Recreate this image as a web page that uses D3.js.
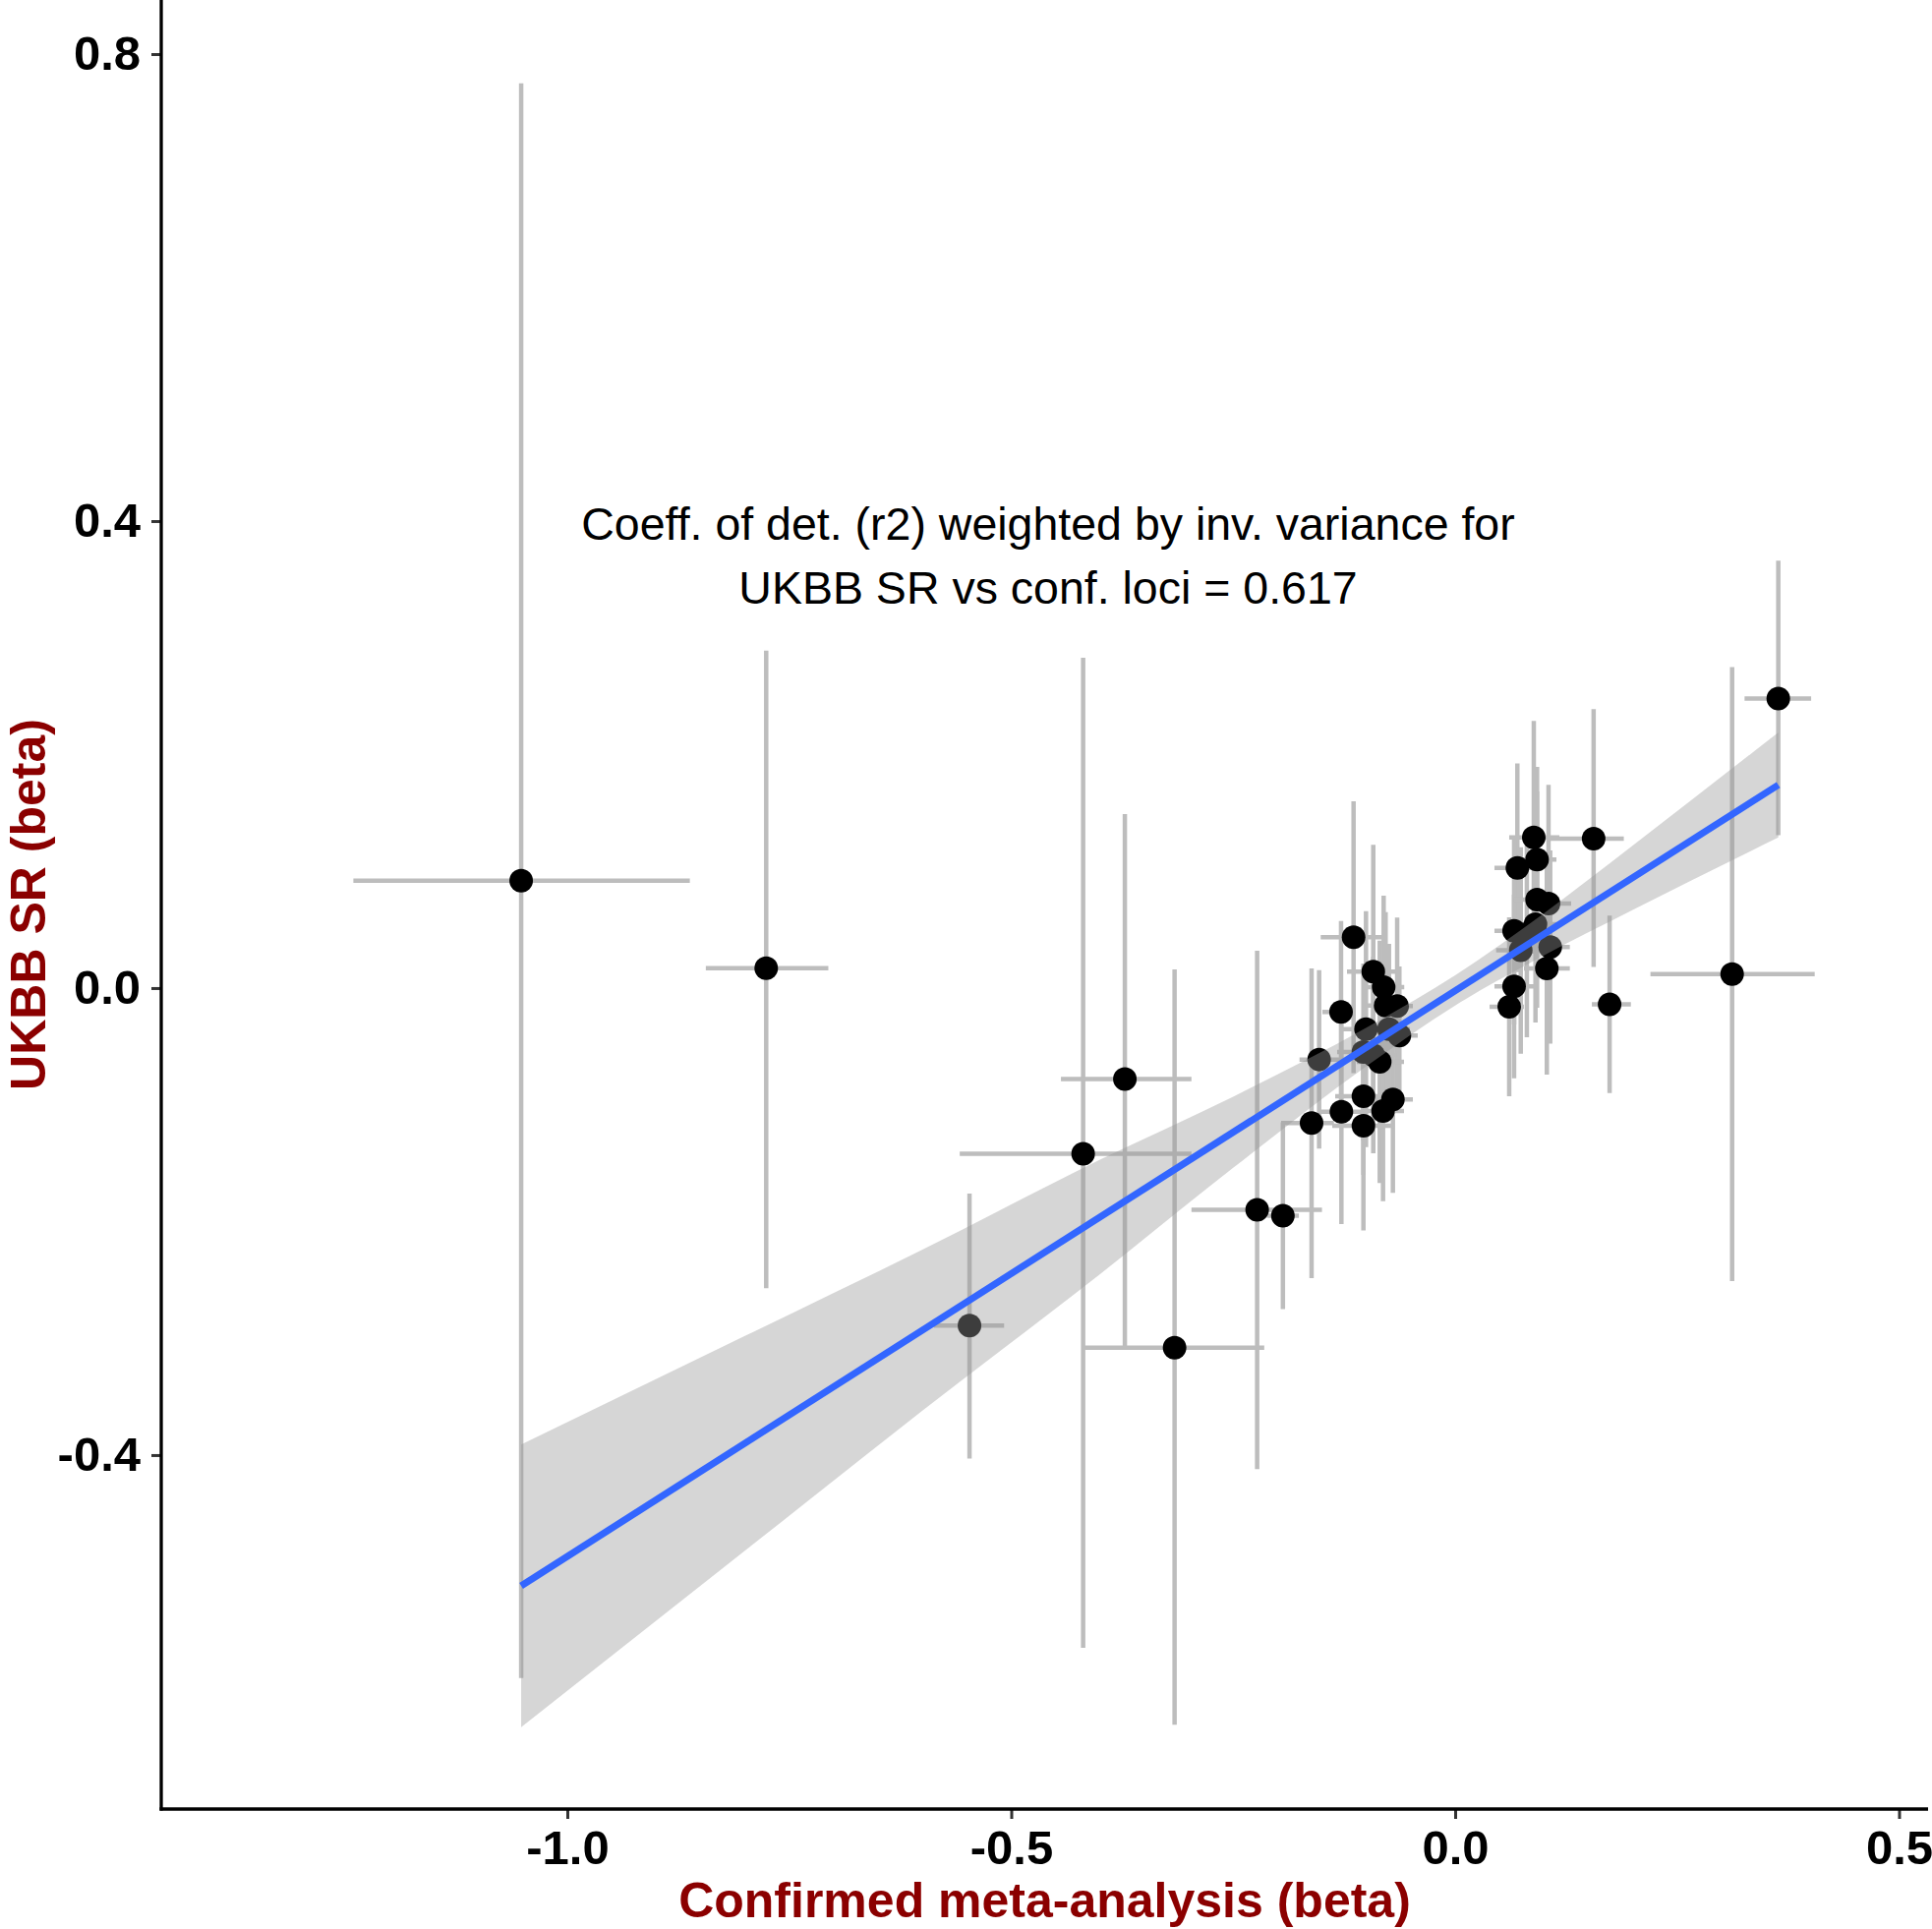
<!DOCTYPE html>
<html>
<head>
<meta charset="utf-8">
<script src="https://cdn.jsdelivr.net/npm/d3@7"></script>
<style>
  html, body { margin: 0; padding: 0; background: #ffffff; }
  svg { display: block; }
</style>
</head>
<body>
<svg id="chart" width="1965" height="1962"></svg>
<script>
// ---------------- data ----------------
// point estimates: confirmed meta-analysis beta (x) vs UKBB SR beta (y)
const xBeta = [-1.052, -0.776, -0.372, -0.419, -0.547, -0.316, -0.223, -0.194, 0.156, 0.174, 0.312, 0.364,
  -0.1144, -0.0922, -0.0805, -0.1285, -0.0783, -0.0653, -0.1004, -0.0745, -0.0628, -0.1033, -0.0922, -0.0849, -0.1532, -0.1033, -0.0701, -0.0812, -0.1281, -0.1617, -0.1033,
  0.0886, 0.0923, 0.0701, 0.0923, 0.1052, 0.0664, 0.0905, 0.0808, 0.0739, 0.1071, 0.1033, 0.0664, 0.0609];
const xLow = [-1.241, -0.844, -0.444, -0.558, -0.587, -0.419, -0.297, -0.212, 0.104, 0.154, 0.220, 0.326,
  -0.1514, -0.1218, -0.1033, -0.1495, -0.0997, -0.0831, -0.1274, -0.0975, -0.0831, -0.1329, -0.1196, -0.1107, -0.1753, -0.1351, -0.0930, -0.1052, -0.1550, -0.1960, -0.1384,
  0.0609, 0.0698, 0.0443, 0.0664, 0.0797, 0.0443, 0.0664, 0.0554, 0.0462, 0.0849, 0.0775, 0.0443, 0.0388];
const xHigh = [-0.862, -0.706, -0.297, -0.297, -0.508, -0.215, -0.150, -0.176, 0.190, 0.198, 0.405, 0.401,
  -0.0812, -0.0631, -0.0573, -0.1185, -0.0554, -0.0476, -0.0753, -0.0509, -0.0421, -0.0753, -0.0664, -0.0576, -0.1255, -0.0720, -0.0476, -0.0576, -0.1033, -0.1365, -0.0687,
  0.1174, 0.1141, 0.0952, 0.1174, 0.1307, 0.0886, 0.1141, 0.1063, 0.0997, 0.1292, 0.1292, 0.0886, 0.0775];
const yBeta = [0.092, 0.017, -0.078, -0.142, -0.289, -0.308, -0.190, -0.195, 0.128, -0.014, 0.012, 0.248,
  0.0435, 0.0141, 0.0008, -0.0205, -0.0149, -0.0154, -0.0351, -0.0351, -0.0407, -0.0547, -0.0575, -0.0632, -0.0612, -0.0926, -0.0954, -0.1053, -0.1059, -0.1156, -0.1179,
  0.1291, 0.1101, 0.1030, 0.0758, 0.0724, 0.0491, 0.0547, 0.0463, 0.0323, 0.0351, 0.0168, 0.0014, -0.0160];
const yLow = [-0.591, -0.257, -0.307, -0.565, -0.403, -0.631, -0.412, -0.275, 0.018, -0.090, -0.251, 0.131,
  -0.0729, -0.0946, -0.0775, -0.0985, -0.0949, -0.0912, -0.1362, -0.1078, -0.0994, -0.1305, -0.1415, -0.1670, -0.1375, -0.1600, -0.1754, -0.1825, -0.2021, -0.2484, -0.2077,
  0.0295, 0.0306, 0.0137, -0.0168, -0.0295, -0.0311, -0.0295, -0.0421, -0.0562, -0.0477, -0.0741, -0.0772, -0.0926];
const yHigh = [0.775, 0.289, 0.149, 0.283, -0.176, 0.016, 0.032, -0.115, 0.239, 0.062, 0.275, 0.366,
  0.1600, 0.1227, 0.0792, 0.0575, 0.0651, 0.0604, 0.0659, 0.0379, 0.0185, 0.0211, 0.0269, 0.0407, 0.0154, -0.0253, -0.0152, -0.0278, -0.0099, 0.0168, -0.0278,
  0.2288, 0.1895, 0.1923, 0.1684, 0.1741, 0.1297, 0.1389, 0.1347, 0.1207, 0.1179, 0.1078, 0.0800, 0.0606];

// weighted fit line and its confidence band
const fitX = [-1.052, 0.364];
const fitY = [-0.512, 0.174];
const bandX    = [-1.052, -0.8, -0.6, -0.4, -0.25, -0.1, 0.0, 0.1, 0.2, 0.364];
const bandLow  = [-0.633, -0.482, -0.362, -0.245, -0.154, -0.067, -0.015, 0.028, 0.067, 0.129];
const bandHigh = [-0.391, -0.298, -0.224, -0.147, -0.093, -0.034, 0.011, 0.064, 0.122, 0.219];

// ticks and texts
const xTicks = [-1.0, -0.5, 0.0, 0.5];
const yTicks = [-0.4, 0.0, 0.4, 0.8];
const xTitle = "Confirmed meta-analysis (beta)";
const yTitle = "UKBB SR (beta)";
const noteLines = ["Coeff. of det. (r2) weighted by inv. variance for", "UKBB SR vs conf. loci = 0.617"];

// ---------------- drawing ----------------
(function () {
const svg = d3.select("#chart");
const pL = 164, pR = 1961, pT = 0, pB = 1840;
const x = d3.scaleLinear().domain([-1.4574, 0.5327]).range([pL, pR]);
const y = d3.scaleLinear().domain([-0.7032, 0.8463]).range([pB, pT]);

const pts = xBeta.map((v, i) => ({x: v, y: yBeta[i], xl: xLow[i], xh: xHigh[i], yl: yLow[i], yh: yHigh[i]}));

const barColor = "#bdbdbd";
const gBars = svg.append("g");
gBars.selectAll("line.v").data(pts).join("line").attr("class", "v")
  .attr("x1", d => x(d.x)).attr("x2", d => x(d.x))
  .attr("y1", d => y(d.yl)).attr("y2", d => y(d.yh))
  .attr("stroke", barColor).attr("stroke-width", 4.5);
gBars.selectAll("line.h").data(pts).join("line").attr("class", "h")
  .attr("x1", d => x(d.xl)).attr("x2", d => x(d.xh))
  .attr("y1", d => y(d.y)).attr("y2", d => y(d.y))
  .attr("stroke", barColor).attr("stroke-width", 4.5);

svg.append("g").selectAll("circle").data(pts).join("circle")
  .attr("cx", d => x(d.x)).attr("cy", d => y(d.y)).attr("r", 12)
  .attr("fill", "#000000");

const band = bandX.map((v, i) => ({x: v, lo: bandLow[i], hi: bandHigh[i]}));
svg.append("path").datum(band)
  .attr("d", d3.area().x(d => x(d.x)).y0(d => y(d.lo)).y1(d => y(d.hi)).curve(d3.curveMonotoneX))
  .attr("fill", "#999999").attr("fill-opacity", 0.4);

svg.append("path").datum(fitX.map((v, i) => [v, fitY[i]]))
  .attr("d", d3.line().x(d => x(d[0])).y(d => y(d[1])))
  .attr("stroke", "#3366ff").attr("stroke-width", 7).attr("fill", "none");

// axes
const font = "'Liberation Sans', Arial, Helvetica, sans-serif";
const fmt = d => d3.format(".1f")(d).replace("\u2212", "-");
const xAxis = svg.append("g").attr("transform", `translate(0,${pB})`)
  .call(d3.axisBottom(x).tickValues(xTicks).tickFormat(fmt).tickSize(10).tickSizeOuter(0).tickPadding(11));
const yAxis = svg.append("g").attr("transform", `translate(${pL},0)`)
  .call(d3.axisLeft(y).tickValues(yTicks).tickFormat(fmt).tickSize(10).tickSizeOuter(0).tickPadding(11));
[xAxis, yAxis].forEach(a => {
  a.select(".domain").remove();
  a.selectAll(".tick line").attr("stroke", "#333333").attr("stroke-width", 3);
  a.selectAll(".tick text").attr("fill", "#000000").style("font-family", font)
    .style("font-weight", "bold").style("font-size", "49px");
});

svg.append("line").attr("x1", pL).attr("x2", pL).attr("y1", pT).attr("y2", pB + 1.6)
  .attr("stroke", "#000").attr("stroke-width", 3.3);
svg.append("line").attr("x1", pL - 1.6).attr("x2", pR).attr("y1", pB).attr("y2", pB)
  .attr("stroke", "#000").attr("stroke-width", 3.3);

// titles
svg.append("text").attr("x", (pL + pR) / 2).attr("y", 1950)
  .attr("text-anchor", "middle").attr("fill", "#8b0000")
  .style("font-family", font).style("font-weight", "bold").style("font-size", "50px")
  .text(xTitle);
svg.append("text").attr("transform", `translate(46,${(pT + pB) / 2}) rotate(-90)`)
  .attr("text-anchor", "middle").attr("fill", "#8b0000")
  .style("font-family", font).style("font-weight", "bold").style("font-size", "50px")
  .text(yTitle);

// annotation
svg.append("g").selectAll("text").data(noteLines).join("text")
  .attr("x", 1066).attr("y", (d, i) => 549 + i * 65)
  .attr("text-anchor", "middle").attr("fill", "#000")
  .style("font-family", font).style("font-size", "46.5px")
  .text(d => d);
})();
</script>
</body>
</html>
